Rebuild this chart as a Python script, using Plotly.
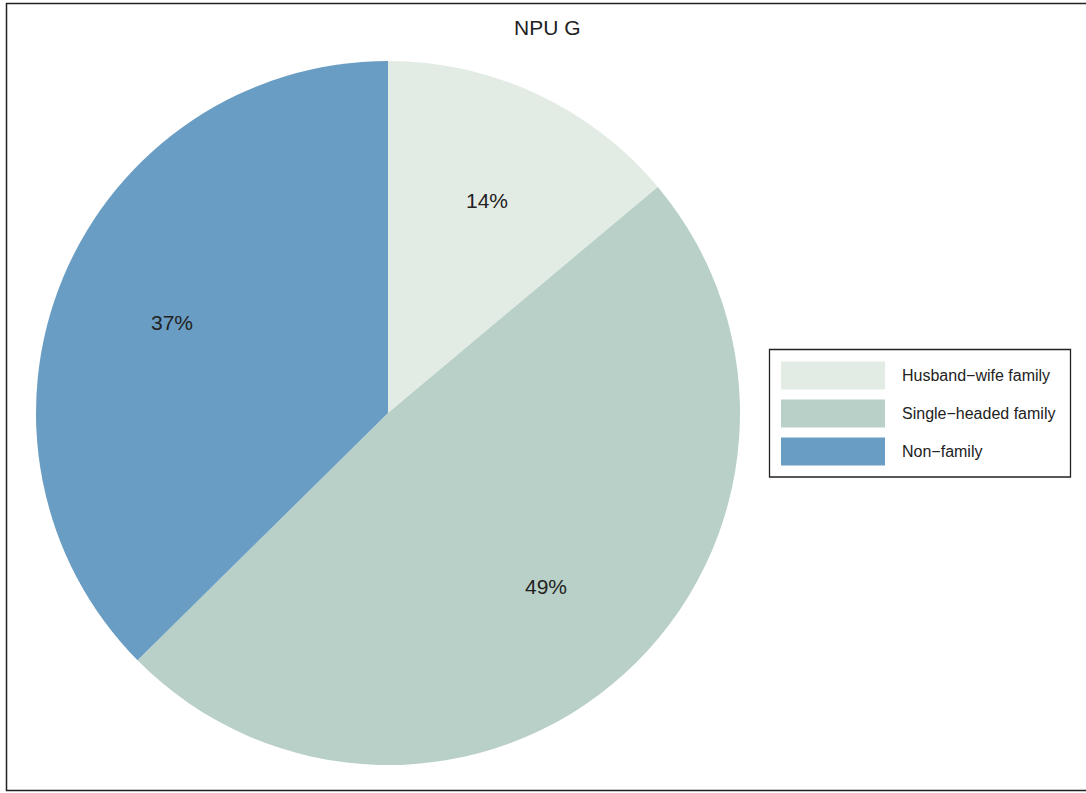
import math
import plotly.graph_objects as go

title = "NPU G"
categories = ["Husband\u2212wife family", "Single\u2212headed family", "Non\u2212family"]
values = [13.9, 48.7, 37.4]
colors = ["#e2ece4", "#b8d0c7", "#6a9dc3"]

W, H = 1086, 793
cx, cy, R = 388, 413, 352  # pie centre / radius in px
FONT = "Liberation Sans, Arial, sans-serif"

fig = go.Figure()
fig.add_trace(go.Pie(
    labels=categories, values=values, sort=False, direction="clockwise",
    rotation=0, textinfo="none", hoverinfo="label+percent",
    marker=dict(colors=colors, line=dict(width=0)),
    domain=dict(x=[(cx - R) / W, (cx + R) / W], y=[1 - (cy + R) / H, 1 - (cy - R) / H]),
    showlegend=False,
))

annotations = []
shapes = []
total = sum(values)
cum = 0
for v in values:
    mid = (cum + v / 2) / total * 2 * math.pi
    cum += v
    px = cx + 0.665 * R * math.sin(mid)
    py = cy - 0.665 * R * math.cos(mid)
    annotations.append(dict(x=px / W, y=1 - py / H, xref="paper", yref="paper",
                            text=f"{round(v / total * 100)}%", showarrow=False,
                            xanchor="center", yanchor="middle",
                            font=dict(size=21, color="#222222", family=FONT)))

annotations.append(dict(x=547 / W, y=1 - 28 / H, xref="paper", yref="paper", text=title,
                        showarrow=False, xanchor="center", yanchor="middle",
                        font=dict(size=21, color="#222222", family=FONT)))

shapes.append(dict(type="rect", xref="paper", yref="paper", x0=6.5 / W, x1=1100 / W,
                   y0=1 - 790.5 / H, y1=1 - 3.5 / H, line=dict(color="#222222", width=1.5)))

shapes.append(dict(type="rect", xref="paper", yref="paper", x0=769.5 / W, x1=1070.5 / W,
                   y0=1 - 477 / H, y1=1 - 349.5 / H, line=dict(color="#222222", width=1.3)))
for i, (lab, col) in enumerate(zip(categories, colors)):
    yc = 375.5 + i * 38
    shapes.append(dict(type="rect", xref="paper", yref="paper", x0=781 / W, x1=885 / W,
                       y0=1 - (yc + 14) / H, y1=1 - (yc - 14) / H, fillcolor=col, line=dict(width=0)))
    annotations.append(dict(x=900 / W, y=1 - yc / H, xref="paper", yref="paper", text=lab,
                            xanchor="left", yanchor="middle", showarrow=False,
                            font=dict(size=16, color="#222222", family=FONT)))

fig.update_layout(
    width=W, height=H, margin=dict(l=0, r=0, t=0, b=0),
    paper_bgcolor="white", plot_bgcolor="white",
    annotations=annotations, shapes=shapes,
)
fig.write_html("out.html", config={"displayModeBar": False},
               post_script="document.body.style.margin='0';document.body.style.overflow='hidden';")
